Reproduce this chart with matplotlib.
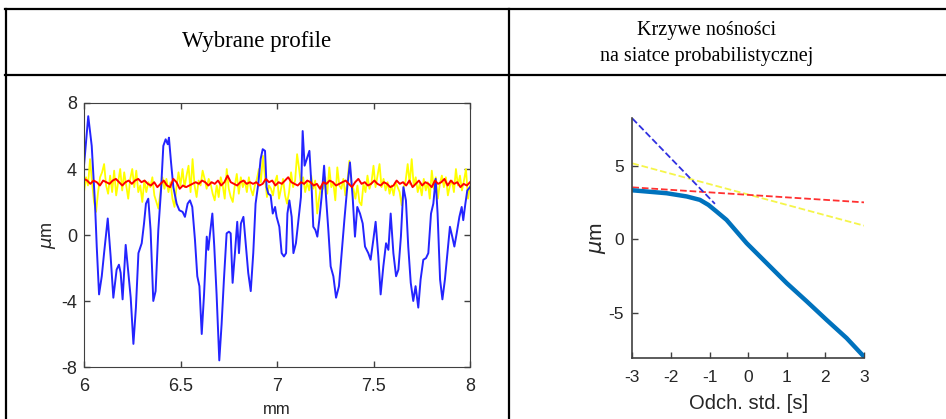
import numpy as np
import matplotlib
matplotlib.use("Agg")
import matplotlib.pyplot as plt
from matplotlib.lines import Line2D

# profile data (mm, um)
blue_x = [6.000, 6.022, 6.040, 6.057, 6.066, 6.078, 6.092, 6.104, 6.123, 6.138,
          6.152, 6.169, 6.181, 6.190, 6.200, 6.216, 6.230, 6.242, 6.256, 6.269,
          6.282, 6.299, 6.311, 6.321, 6.333, 6.345, 6.359, 6.371, 6.385, 6.399,
          6.411, 6.423, 6.434, 6.440, 6.451, 6.463, 6.480, 6.494, 6.511, 6.523,
          6.537, 6.549, 6.561, 6.575, 6.587, 6.598, 6.610, 6.622, 6.636, 6.644,
          6.653, 6.665, 6.675, 6.687, 6.701, 6.713, 6.725, 6.739, 6.751, 6.760,
          6.770, 6.782, 6.794, 6.803, 6.813, 6.826, 6.839, 6.851, 6.864, 6.877,
          6.889, 6.903, 6.915, 6.926, 6.938, 6.946, 6.955, 6.967, 6.978, 6.990,
          6.998, 7.012, 7.024, 7.036, 7.047, 7.054, 7.064, 7.076, 7.085, 7.098,
          7.111, 7.124, 7.133, 7.143, 7.154, 7.168, 7.180, 7.188, 7.199, 7.209,
          7.219, 7.231, 7.244, 7.254, 7.266, 7.278, 7.292, 7.306, 7.321, 7.335,
          7.349, 7.364, 7.378, 7.392, 7.404, 7.416, 7.430, 7.444, 7.456, 7.473,
          7.485, 7.499, 7.511, 7.525, 7.537, 7.551, 7.565, 7.577, 7.589, 7.603,
          7.617, 7.629, 7.642, 7.655, 7.668, 7.680, 7.693, 7.706, 7.718, 7.732,
          7.744, 7.758, 7.772, 7.784, 7.798, 7.810, 7.822, 7.832, 7.845, 7.857,
          7.870, 7.883, 7.896, 7.908, 7.919, 7.931, 7.945, 7.957, 7.965, 7.976,
          7.986, 8.000]
blue_y = [4.2, 7.2, 5.4, 1.9, -0.7, -3.6, -2.5, -1.1, 1.0, -1.3,
          -3.8, -2.1, -1.8, -2.3, -3.9, -0.6, -2.3, -3.8, -6.6, -4.4,
          -1.1, -0.5, 0.7, 1.9, 2.2, 0.3, -4.0, -3.4, 0.3, 2.7,
          5.4, 5.8, 5.5, 5.9, 4.4, 2.9, 1.9, 1.5, 1.4, 1.1,
          1.9, 2.1, 1.7, -0.3, -2.5, -3.1, -6.0, -3.6, -0.1, -0.9,
          0.1, 1.3, -0.7, -3.6, -7.6, -5.4, -2.7, 0.1, 0.2, 0.1,
          -2.9, -1.1, 0.8, -1.1, 0.7, 1.1, -0.7, -2.3, -3.4, -1.1,
          1.9, 3.1, 4.6, 5.2, 5.1, 2.9, 2.5, 2.4, 1.3, 1.7,
          1.1, 0.5, -1.1, -1.3, -1.1, 1.3, 2.1, 1.1, -1.1, -0.5,
          0.9, 2.3, 6.3, 4.2, 4.6, 5.1, 2.7, 0.5, 0.3, -0.1,
          0.9, 2.3, 4.2, 2.3, 0.3, -1.9, -2.5, -3.8, -3.1, -1.1,
          0.9, 2.9, 4.4, 2.3, -0.1, 1.7, 1.3, 0.7, -0.7, -1.1,
          -1.5, -0.3, 0.8, -1.3, -3.6, -1.9, -0.5, -0.9, 1.3, -1.1,
          -2.5, -2.1, -0.1, 2.9, 2.1, -0.7, -2.9, -4.0, -3.1, -4.4,
          -2.7, -1.5, -1.4, -1.1, 1.3, 1.9, 3.4, 1.3, -2.7, -3.9,
          -2.7, -1.1, 0.5, -0.1, -0.7, 0.1, 1.1, 1.7, 0.9, 1.9,
          2.7, 2.9]

yellow_y = [2.6, 3.5, 3.0, 4.6, 3.2, 2.0, 1.4, 2.6, 3.5, 3.8,
            4.3, 3.0, 2.5, 3.6, 2.6, 3.9, 2.4, 3.2, 4.0, 2.7,
            3.8, 3.0, 2.2, 3.4, 4.0, 2.9, 3.9, 2.6, 3.0, 2.0,
            3.3, 2.6, 3.2, 2.9, 3.5, 2.4, 2.0, 1.6, 2.6, 3.5,
            2.8, 3.4, 2.6, 3.2, 2.2, 1.7, 2.9, 3.8, 3.0, 4.0,
            2.9, 3.6, 4.2, 2.6, 4.6, 3.0, 2.3, 3.3, 3.0, 3.9,
            3.4, 2.8, 3.4, 3.1, 2.5, 2.1, 3.0, 2.3, 3.5, 3.0,
            2.2, 4.0, 2.8, 2.3, 2.0, 3.0, 3.7, 2.5, 3.5, 2.9,
            3.3, 2.6, 3.5, 2.8, 2.4, 3.0, 3.4, 4.0, 3.2, 4.8,
            3.5, 2.3, 3.0, 2.8, 2.4, 3.2, 3.6, 2.2, 2.8, 3.4,
            2.4, 1.9, 2.6, 3.8, 2.9, 3.3, 4.9, 4.0, 3.0, 3.5,
            2.6, 3.2, 2.7, 3.6, 2.8, 3.3, 1.3, 2.3, 3.0, 2.8,
            3.5, 2.5, 4.1, 2.9, 3.2, 2.1, 4.1, 3.0, 2.8, 3.4,
            2.4, 3.2, 4.5, 3.1, 2.8, 2.2, 3.0, 2.0, 1.8, 3.1,
            2.6, 3.6, 2.8, 3.2, 4.2, 2.9, 3.6, 4.3, 2.9, 3.4,
            2.7, 3.2, 2.5, 3.0, 2.4, 3.2, 2.9, 2.6, 1.8, 2.9,
            3.3, 4.3, 3.1, 4.6, 3.0, 3.5, 2.6, 3.1, 2.4, 3.4,
            2.7, 3.2, 2.2, 3.9, 2.8, 3.5, 2.2, 3.1, 3.6, 2.9,
            3.5, 2.4, 3.0, 3.3, 2.6, 4.0, 3.0, 3.6, 2.7, 3.3,
            4.0, 2.2, 3.0]

red_y = [3.4, 3.3, 3.1, 3.3, 3.2, 3.0, 3.3, 3.2, 3.1, 3.3, 3.4, 3.2, 3.0, 3.2,
         3.3, 3.1, 3.3, 3.4, 3.2, 3.3, 3.1, 3.0, 3.2, 2.9, 3.1, 3.3, 3.0, 2.9,
         3.4, 3.2, 2.8, 3.0, 2.9, 3.0, 3.1, 3.2, 3.1, 3.3, 3.2, 3.0, 3.2, 3.1,
         3.3, 3.0, 3.2, 3.6, 3.2, 3.1, 3.0, 3.2, 3.3, 3.1, 3.2, 3.1, 3.2, 3.0,
         3.1, 3.4, 3.2, 3.3, 3.0, 3.2, 3.1, 3.3, 3.5, 3.2, 3.1, 3.0, 3.2, 3.1,
         3.3, 3.2, 3.0, 3.1, 2.8, 3.2, 3.1, 3.3, 3.2, 3.0, 3.1, 3.2, 3.3, 3.1,
         2.9, 3.2, 3.4, 3.1, 3.2, 3.0, 3.1, 3.3, 3.1, 3.0, 3.2, 3.1, 2.9, 3.0,
         3.3, 3.1, 3.2, 3.0, 3.3, 2.9, 3.1, 3.3, 3.0, 3.2, 3.1, 2.9, 3.3, 3.1,
         3.2, 3.4, 3.0, 3.3, 3.1, 3.2, 2.9, 3.1, 3.0, 3.2]

# bearing curve on probability grid (std dev, um)
curve_s = [-3.0, -2.11, -1.59, -1.25, -1.03, -0.82, -0.56, -0.30, -0.04, 0.48,
           1.00, 1.52, 2.03, 2.55, 3.0]
curve_y = [3.32, 3.12, 2.90, 2.67, 2.33, 1.88, 1.31, 0.52, -0.27, -1.63,
           -2.99, -4.23, -5.48, -6.72, -7.98]
fit_blue_s = [-3.0, -0.86]
fit_blue_y = [8.2, 2.4]
fit_yellow_s = [-3.0, 3.0]
fit_yellow_y = [5.15, 0.92]
fit_red_s = [-3.0, 3.0]
fit_red_y = [3.52, 2.5]

plt.rcParams['font.family'] = ['Liberation Sans', 'DejaVu Sans']
plt.rcParams['axes.unicode_minus'] = False
axis_col = '#404040'

fig = plt.figure(figsize=(9.46, 4.19), dpi=100)

# table frame
W, H = 946.0, 419.0
def hline(y):
    fig.add_artist(Line2D([0.0053, 1.0], [1 - y / H, 1 - y / H], color='black', lw=1.6))
def vline(x, y0):
    fig.add_artist(Line2D([x / W, x / W], [1 - y0 / H, 0], color='black', lw=1.6))
hline(9.5)
hline(75.5)
vline(6, 9.5)
vline(509, 9.5)

fig.text(257 / W, 1 - 42 / H, 'Wybrane profile', ha='center', va='center',
         family='Liberation Serif', fontsize=16.5)
fig.text(707 / W, 1 - 30 / H, 'Krzywe nośności', ha='center', va='center',
         family='Liberation Serif', fontsize=14.5)
fig.text(707 / W, 1 - 57 / H, 'na siatce probabilistycznej', ha='center', va='center',
         family='Liberation Serif', fontsize=14.5)

# left: profiles
ax1 = fig.add_axes([84 / W, 1 - 367 / H, 386 / W, 264 / H])
ax1.plot(np.linspace(6, 8, len(yellow_y)), yellow_y, color='#ffff00', lw=1.3)
ax1.plot(blue_x, blue_y, color='#2424ff', lw=1.4)
ax1.plot(np.linspace(6, 8, len(red_y)), red_y, color='#ff0000', lw=1.4)
ax1.set_xlim(6, 8)
ax1.set_ylim(-8, 8)
ax1.set_xticks([6, 6.5, 7, 7.5, 8])
ax1.set_xticklabels(['6', '6.5', '7', '7.5', '8'])
ax1.set_yticks([-8, -4, 0, 4, 8])
ax1.tick_params(direction='in', top=True, right=True, length=4, width=1,
                colors=axis_col, labelsize=13, labelcolor='#262626')
ax1.tick_params(axis='x', pad=8)
ax1.tick_params(axis='y', pad=5)
for sp in ax1.spines.values():
    sp.set_color(axis_col)
ax1.set_xlabel('mm', fontsize=12, color='#262626', labelpad=5)
ax1.set_ylabel(r'$\mu$m', fontsize=13, color='#262626', labelpad=2)

# right: bearing curves
ax2 = fig.add_axes([632.3 / W, 1 - 357.7 / H, 231.7 / W, 240 / H])
ax2.plot(fit_yellow_s, fit_yellow_y, '--', color='#f5f54a', lw=1.3)
ax2.plot(fit_red_s, fit_red_y, '--', color='#ff3030', lw=1.3)
ax2.plot(fit_blue_s, fit_blue_y, '--', color='#3030e0', lw=1.3)
ax2.plot(curve_s, curve_y, color='#0072bd', lw=3.2, solid_capstyle='round')
ax2.set_xlim(-3, 3)
ax2.set_ylim(-8.05, 8.25)
ax2.set_xticks([-3, -2, -1, 0, 1, 2, 3])
ax2.set_yticks([-5, 0, 5])
ax2.spines['top'].set_visible(False)
ax2.spines['right'].set_visible(False)
for sp in ['left', 'bottom']:
    ax2.spines[sp].set_color(axis_col)
    ax2.spines[sp].set_linewidth(1.2)
ax2.tick_params(direction='in', length=4, width=1, colors=axis_col,
                labelsize=12.5, labelcolor='#262626')
ax2.tick_params(axis='x', pad=9)
ax2.tick_params(axis='y', pad=6)
ax2.set_xlabel('Odch. std. [s]', fontsize=14.5, color='#262626', labelpad=6)
ax2.set_ylabel(r'$\mu$m', fontsize=15, color='#262626', labelpad=0)

fig.savefig('out.png', dpi=100)
